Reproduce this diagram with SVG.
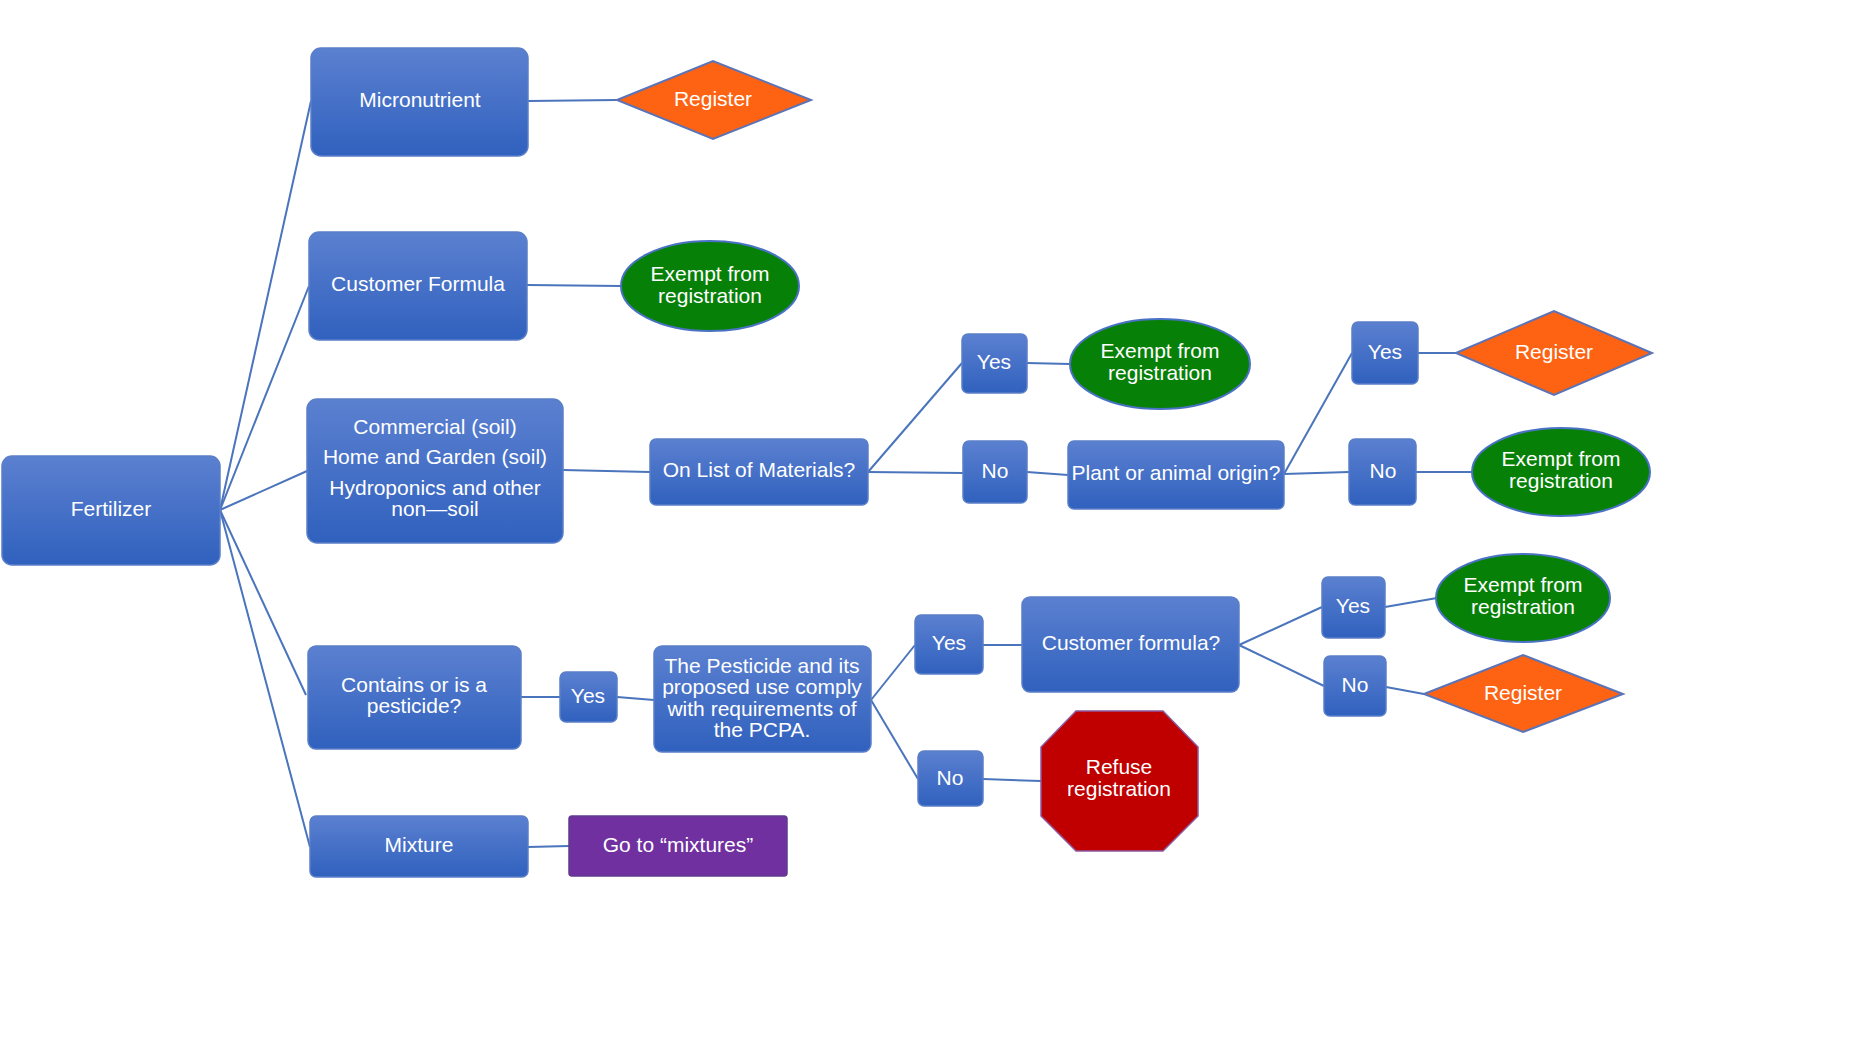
<svg xmlns="http://www.w3.org/2000/svg" width="1864" height="1043" viewBox="0 0 1864 1043">
<defs>
<linearGradient id="bg" x1="0" y1="0" x2="0" y2="1">
<stop offset="0" stop-color="#5b80d0"/>
<stop offset="1" stop-color="#3061be"/>
</linearGradient>
<style>
.box{fill:url(#bg);stroke:#5a7fc8;stroke-width:1.5}
.t{font-family:"Liberation Sans",Arial,sans-serif;font-size:21px;fill:#fff;text-anchor:middle;dominant-baseline:central;transform:translateY(-1.5px)}
.ell{fill:#078007;stroke:#4a72c4;stroke-width:2}
.dia{fill:#fd6312;stroke:#5b73b7;stroke-width:2}
.oct{fill:#c00000;stroke:#8c5aa0;stroke-width:1.5}
.pur{fill:#7030a0;stroke:#5f3b8e;stroke-width:1.5}
.c line{stroke:#4a74bb;stroke-width:2}
</style>
</defs>
<rect width="1864" height="1043" fill="#fff"/>
<g class="c" id="connectors">
<line x1="220" y1="510" x2="311" y2="101"/>
<line x1="220" y1="510" x2="309" y2="286"/>
<line x1="220" y1="510" x2="307" y2="471"/>
<line x1="220" y1="510" x2="306" y2="695"/>
<line x1="220" y1="510" x2="310" y2="847"/>
<line x1="528" y1="101" x2="617" y2="100"/>
<line x1="527" y1="285" x2="621" y2="286"/>
<line x1="563" y1="470" x2="650" y2="472"/>
<line x1="868" y1="472" x2="962" y2="363"/>
<line x1="868" y1="472" x2="963" y2="473"/>
<line x1="1027" y1="363" x2="1070" y2="364"/>
<line x1="1027" y1="472" x2="1068" y2="475"/>
<line x1="1284" y1="474" x2="1352" y2="353"/>
<line x1="1284" y1="474" x2="1349" y2="472"/>
<line x1="1418" y1="353" x2="1456" y2="353"/>
<line x1="1416" y1="472" x2="1472" y2="472"/>
<line x1="521" y1="697" x2="560" y2="697"/>
<line x1="617" y1="697" x2="654" y2="700"/>
<line x1="871" y1="700" x2="915" y2="645"/>
<line x1="871" y1="700" x2="918" y2="779"/>
<line x1="983" y1="645" x2="1022" y2="645"/>
<line x1="983" y1="779" x2="1041" y2="781"/>
<line x1="1239" y1="645" x2="1322" y2="607"/>
<line x1="1239" y1="645" x2="1324" y2="686"/>
<line x1="1385" y1="607" x2="1437" y2="598"/>
<line x1="1386" y1="687" x2="1424" y2="694"/>
<line x1="528" y1="847" x2="569" y2="846"/>
</g>
<g id="fertilizer"><rect class="box" x="2" y="456" width="218" height="109" rx="10"/><text class="t" x="111" y="510">Fertilizer</text></g>
<g id="micronutrient"><rect class="box" x="311" y="48" width="217" height="108" rx="10"/><text class="t" x="420" y="101">Micronutrient</text></g>
<g id="register1"><polygon class="dia" points="617,100 713,61 811,100 713,139"/><text class="t" x="713" y="100">Register</text></g>
<g id="customerFormula"><rect class="box" x="309" y="232" width="218" height="108" rx="10"/><text class="t" x="418" y="285">Customer Formula</text></g>
<g id="exempt1"><ellipse class="ell" cx="710" cy="286" rx="89" ry="45"/><text class="t" x="710" y="275">Exempt from</text><text class="t" x="710" y="297">registration</text></g>
<g id="commercial"><rect class="box" x="307" y="399" width="256" height="144" rx="10"/><text class="t" x="435" y="428">Commercial (soil)</text><text class="t" x="435" y="458">Home and Garden (soil)</text><text class="t" x="435" y="489">Hydroponics and other</text><text class="t" x="435" y="510">non—soil</text></g>
<g id="onList"><rect class="box" x="650" y="439" width="218" height="66" rx="6"/><text class="t" x="759" y="471">On List of Materials?</text></g>
<g id="yes1"><rect class="box" x="962" y="334" width="65" height="59" rx="6"/><text class="t" x="994" y="363">Yes</text></g>
<g id="exempt2"><ellipse class="ell" cx="1160" cy="364" rx="90" ry="45"/><text class="t" x="1160" y="352">Exempt from</text><text class="t" x="1160" y="374">registration</text></g>
<g id="no1"><rect class="box" x="963" y="441" width="64" height="62" rx="6"/><text class="t" x="995" y="472">No</text></g>
<g id="plantOrigin"><rect class="box" x="1068" y="441" width="216" height="68" rx="6"/><text class="t" x="1176" y="474">Plant or animal origin?</text></g>
<g id="yes2"><rect class="box" x="1352" y="322" width="66" height="62" rx="6"/><text class="t" x="1385" y="353">Yes</text></g>
<g id="register2"><polygon class="dia" points="1456,353 1554,311 1652,353 1554,395"/><text class="t" x="1554" y="353">Register</text></g>
<g id="no2"><rect class="box" x="1349" y="439" width="67" height="66" rx="6"/><text class="t" x="1383" y="472">No</text></g>
<g id="exempt3"><ellipse class="ell" cx="1561" cy="472" rx="89" ry="44"/><text class="t" x="1561" y="460">Exempt from</text><text class="t" x="1561" y="482">registration</text></g>
<g id="containsPesticide"><rect class="box" x="308" y="646" width="213" height="103" rx="8"/><text class="t" x="414" y="686">Contains or is a</text><text class="t" x="414" y="707">pesticide?</text></g>
<g id="yes3"><rect class="box" x="560" y="672" width="57" height="50" rx="6"/><text class="t" x="588" y="697">Yes</text></g>
<g id="pesticideComply"><rect class="box" x="654" y="646" width="217" height="106" rx="8"/><text class="t" x="762" y="667">The Pesticide and its</text><text class="t" x="762" y="688">proposed use comply</text><text class="t" x="762" y="710">with requirements of</text><text class="t" x="762" y="731">the PCPA.</text></g>
<g id="yes4"><rect class="box" x="915" y="615" width="68" height="59" rx="6"/><text class="t" x="949" y="644">Yes</text></g>
<g id="customerFormulaQ"><rect class="box" x="1022" y="597" width="217" height="95" rx="8"/><text class="t" x="1131" y="644">Customer formula?</text></g>
<g id="no3"><rect class="box" x="918" y="751" width="65" height="55" rx="6"/><text class="t" x="950" y="779">No</text></g>
<g id="refuse"><polygon class="oct" points="1076,711 1163,711 1198,747 1198,816 1163,851 1076,851 1041,816 1041,747"/><text class="t" x="1119" y="768">Refuse</text><text class="t" x="1119" y="790">registration</text></g>
<g id="yes5"><rect class="box" x="1322" y="577" width="63" height="61" rx="6"/><text class="t" x="1353" y="607">Yes</text></g>
<g id="exempt4"><ellipse class="ell" cx="1523" cy="598" rx="87" ry="44"/><text class="t" x="1523" y="586">Exempt from</text><text class="t" x="1523" y="608">registration</text></g>
<g id="no4"><rect class="box" x="1324" y="656" width="62" height="60" rx="6"/><text class="t" x="1355" y="686">No</text></g>
<g id="register3"><polygon class="dia" points="1424,694 1523,655 1623,694 1523,732"/><text class="t" x="1523" y="694">Register</text></g>
<g id="mixture"><rect class="box" x="310" y="816" width="218" height="61" rx="6"/><text class="t" x="419" y="846">Mixture</text></g>
<g id="gotoMixtures"><rect class="pur" x="569" y="816" width="218" height="60" rx="3"/><text class="t" x="678" y="846">Go to “mixtures”</text></g>
</svg>
